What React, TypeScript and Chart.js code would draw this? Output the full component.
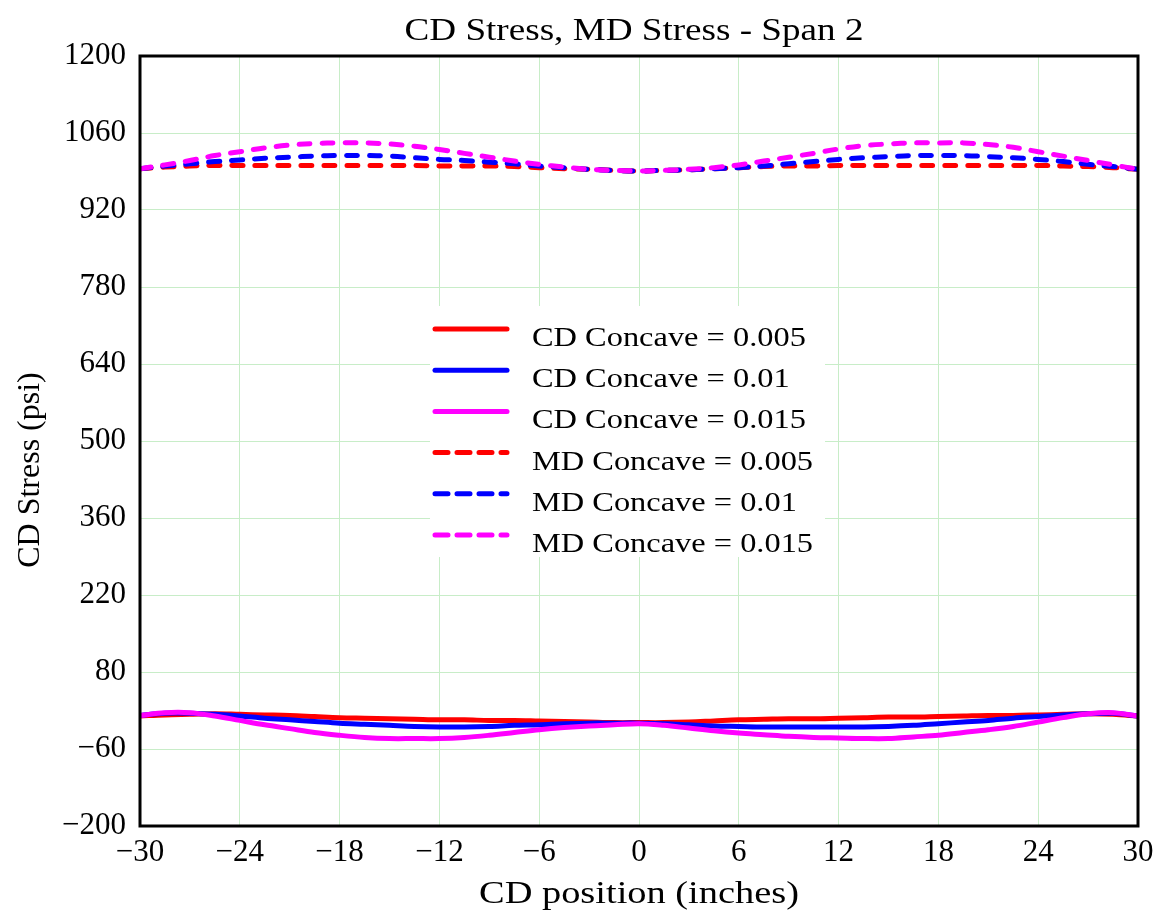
import React, { useEffect, useRef } from "react";
import { Chart, registerables } from "chart.js";

Chart.register(...registerables);

// CD position (inches)
const positions = [
  -30, -28.5, -27, -25.5, -24, -22.5, -21, -19.5, -18, -16.5, -15, -13.5, -12, -10.5, -9, -7.5, -6, -4.5, -3, -1.5,
  0, 1.5, 3, 4.5, 6, 7.5, 9, 10.5, 12, 13.5, 15, 16.5, 18, 19.5, 21, 22.5, 24, 25.5, 27, 28.5, 30,
];

// CD stress (psi), solid lines
const cdConcave005 = [
  0, 2, 3, 4, 3, 2, 1, -1, -3, -4, -5, -6, -7, -7, -8, -8, -9, -10, -11, -12,
  -12, -12, -11, -9, -7, -6, -5, -5, -4, -3, -2, -2, -1, 0, 1, 1, 2, 3, 4, 3, 0,
];
const cdConcave01 = [
  1, 5, 5, 3, 0, -4, -7, -10, -13, -15, -17, -19, -20, -20, -19, -17, -16, -14, -13, -13,
  -13, -14, -16, -18, -19, -20, -20, -20, -20, -20, -19, -17, -14, -11, -8, -4, -1, 2, 4, 5, 0,
];
const cdConcave015 = [
  1, 6, 6, 0, -8, -16, -23, -30, -35, -39, -41, -41, -41, -39, -35, -30, -25, -21, -18, -16,
  -14, -17, -22, -27, -31, -34, -37, -39, -40, -41, -41, -38, -35, -30, -25, -19, -11, -3, 4, 6, 0,
];

// MD stress (psi), dashed lines
const mdConcave005 = [
  995, 998, 1000, 1001, 1001, 1001, 1001, 1001, 1001, 1001, 1001, 1001, 1000, 1000, 1000, 999, 997, 995, 994, 992,
  991, 992, 993, 995, 997, 999, 1000, 1000, 1001, 1001, 1001, 1001, 1001, 1001, 1001, 1001, 1001, 1000, 999, 997, 994,
];
const mdConcave01 = [
  995, 1000, 1004, 1008, 1011, 1014, 1016, 1018, 1019, 1019, 1018, 1015, 1012, 1010, 1007, 1004, 1000, 997, 994, 992,
  991, 992, 993, 995, 997, 1000, 1004, 1008, 1012, 1015, 1017, 1019, 1019, 1019, 1017, 1015, 1012, 1008, 1003, 999, 994,
];
const mdConcave015 = [
  995, 1002, 1010, 1019, 1026, 1033, 1038, 1041, 1042, 1042, 1040, 1036, 1030, 1023, 1016, 1009, 1003, 998, 994, 992,
  991, 992, 994, 997, 1002, 1009, 1016, 1023, 1031, 1037, 1040, 1042, 1042, 1042, 1039, 1034, 1026, 1018, 1010, 1002, 994,
];

const seriesLabels = [
  "CD Concave = 0.005",
  "CD Concave = 0.01",
  "CD Concave = 0.015",
  "MD Concave = 0.005",
  "MD Concave = 0.01",
  "MD Concave = 0.015",
];
const seriesValues = [cdConcave005, cdConcave01, cdConcave015, mdConcave005, mdConcave01, mdConcave015];
const seriesColors = ["#ff0000", "#0000ff", "#ff00ff", "#ff0000", "#0000ff", "#ff00ff"];
const seriesDashed = [false, false, false, true, true, true];
const seriesOrder = [3, 2, 1, 3, 2, 1];

const xTickValues = [-30, -24, -18, -12, -6, 0, 6, 12, 18, 24, 30];
const yTickValues = [-200, -60, 80, 220, 360, 500, 640, 780, 920, 1060, 1200];

const chartTitle = "CD Stress, MD Stress - Span 2";
const xAxisTitle = "CD position (inches)";
const yAxisTitle = "CD Stress (psi)";

const FONT = '"Liberation Serif", "Times New Roman", Times, serif';
const GRID = "#c8edc8";

function fmt(v: number): string {
  return v < 0 ? "\u2212" + Math.abs(v) : String(v);
}

function drawStretched(
  ctx: CanvasRenderingContext2D,
  text: string,
  x: number,
  y: number,
  size: number,
  sx: number,
  align: "left" | "center"
) {
  ctx.save();
  ctx.font = `${size}px ${FONT}`;
  ctx.textBaseline = "alphabetic";
  ctx.textAlign = "left";
  ctx.fillStyle = "#000";
  const w = ctx.measureText(text).width * sx;
  const x0 = align === "center" ? x - w / 2 : x;
  ctx.translate(x0, y);
  ctx.scale(sx, 1);
  ctx.fillText(text, 0, 0);
  ctx.restore();
}

const framePlugin = {
  id: "frameAndText",
  afterDatasetsDraw(chart: any) {
    const { ctx, chartArea } = chart;
    const { left, top, right, bottom } = chartArea;
    ctx.save();
    ctx.strokeStyle = "#000";
    ctx.lineWidth = 3;
    ctx.strokeRect(left, top, right - left, bottom - top);
    ctx.restore();
  },
  afterDraw(chart: any) {
    const { ctx, chartArea } = chart;
    const { left, top, right, bottom } = chartArea;
    const cx = (left + right) / 2;

    // title and axis titles
    drawStretched(ctx, chartTitle, cx - 5, 40, 32, 1.16, "center");
    drawStretched(ctx, xAxisTitle, cx, 903, 32, 1.2, "center");

    ctx.save();
    ctx.translate(39, 470);
    ctx.rotate(-Math.PI / 2);
    ctx.font = `32px ${FONT}`;
    ctx.textAlign = "center";
    ctx.textBaseline = "alphabetic";
    ctx.fillStyle = "#000";
    ctx.fillText(yAxisTitle, 0, 0);
    ctx.restore();

    // legend
    const boxL = left + 290;
    const boxT = top + 250;
    const boxR = left + 685;
    const boxB = top + 501;
    ctx.save();
    ctx.fillStyle = "#ffffff";
    ctx.fillRect(boxL, boxT, boxR - boxL, boxB - boxT);
    ctx.restore();

    const rowY0 = top + 273;
    const rowGap = 41.2;
    const lineX0 = left + 295;
    const lineX1 = left + 367;
    const textX = left + 392;
    chart.data.datasets.forEach((ds: any, i: number) => {
      const y = rowY0 + i * rowGap;
      ctx.save();
      ctx.strokeStyle = ds.borderColor;
      ctx.lineWidth = 5;
      ctx.lineCap = "round";
      if (seriesDashed[i]) ctx.setLineDash([13, 9]);
      ctx.beginPath();
      ctx.moveTo(lineX0, y);
      ctx.lineTo(lineX1, y);
      ctx.stroke();
      ctx.restore();
      drawStretched(ctx, ds.label, textX, y + 17, 27, 1.2, "left");
    });
  },
};

export default function App() {
  const canvasRef = useRef<HTMLCanvasElement | null>(null);

  useEffect(() => {
    const canvas = canvasRef.current;
    if (!canvas) return;

    const datasets = seriesLabels.map((label, i) => ({
      label,
      data: positions.map((x, j) => ({ x, y: seriesValues[i][j] })),
      borderColor: seriesColors[i],
      backgroundColor: seriesColors[i],
      borderWidth: 5,
      borderDash: seriesDashed[i] ? [11, 12] : [],
      borderCapStyle: seriesDashed[i] ? "round" : "butt",
      borderJoinStyle: "round",
      pointRadius: 0,
      tension: 0.35,
      fill: false,
      order: seriesOrder[i],
    }));

    const chart = new Chart(canvas, {
      type: "line",
      data: { datasets } as any,
      options: {
        responsive: false,
        animation: false,
        devicePixelRatio: 1,
        layout: { padding: { left: 0, right: 25, top: 56, bottom: 0 } },
        plugins: {
          legend: { display: false },
          tooltip: { enabled: false },
          title: { display: false },
        },
        scales: {
          x: {
            type: "linear",
            min: -30,
            max: 30,
            afterBuildTicks: (scale: any) => {
              scale.ticks = xTickValues.map((v) => ({ value: v }));
            },
            afterFit: (scale: any) => {
              scale.height = 93;
            },
            ticks: {
              autoSkip: false,
              maxRotation: 0,
              padding: 8,
              color: "#000",
              font: { family: FONT, size: 31 },
              callback: (v: any) => fmt(Number(v)),
            },
            grid: { color: GRID, lineWidth: 1, drawTicks: false },
            border: { display: false },
          },
          y: {
            type: "linear",
            min: -200,
            max: 1200,
            afterBuildTicks: (scale: any) => {
              scale.ticks = yTickValues.map((v) => ({ value: v }));
            },
            afterFit: (scale: any) => {
              scale.width = 140;
            },
            ticks: {
              autoSkip: false,
              padding: 14,
              color: "#000",
              font: { family: FONT, size: 31 },
              callback: (v: any) => fmt(Number(v)),
            },
            grid: { color: GRID, lineWidth: 1, drawTicks: false },
            border: { display: false },
          },
        },
      } as any,
      plugins: [framePlugin],
    });

    return () => chart.destroy();
  }, []);

  return (
    <div style={{ position: "fixed", left: 0, top: 0, width: 1163, height: 919, background: "#fff" }}>
      <canvas ref={canvasRef} width={1163} height={919} style={{ display: "block" }} />
    </div>
  );
}
